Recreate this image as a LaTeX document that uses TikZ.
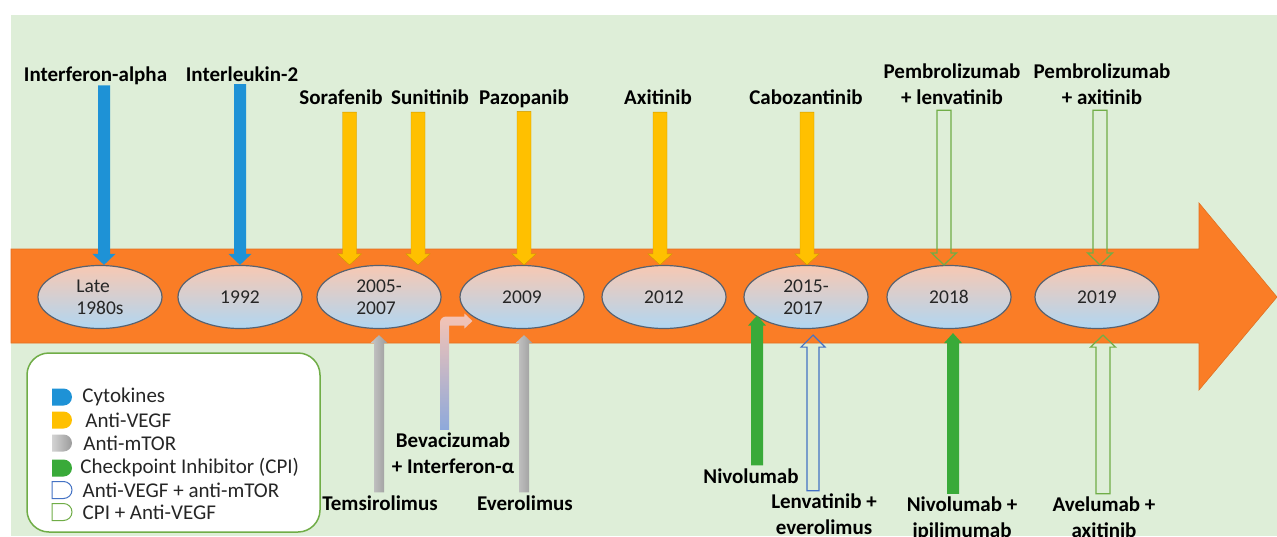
\documentclass[tikz,border=0pt]{standalone}
\usepackage{fontspec}
\setmainfont{Carlito}
\usetikzlibrary{positioning,calc,shapes.geometric,shapes.misc}

\definecolor{bggreen}{RGB}{222,238,216}
\definecolor{bandorange}{RGB}{250,125,38}
\definecolor{ellpeach}{RGB}{247,200,178}
\definecolor{ellblue}{RGB}{176,214,242}
\definecolor{ellline}{RGB}{88,98,112}
\definecolor{cytoblue}{RGB}{30,146,214}
\definecolor{vegfgold}{RGB}{255,192,0}
\definecolor{mtorlight}{RGB}{200,200,200}
\definecolor{mtordark}{RGB}{155,155,155}
\definecolor{cpigreen}{RGB}{57,170,57}
\definecolor{olgreen}{RGB}{112,173,71}
\definecolor{olblue}{RGB}{68,114,196}
\definecolor{bevblue}{RGB}{142,169,219}
\definecolor{bevpink}{RGB}{246,196,180}

\begin{document}
\begin{tikzpicture}[x=1pt,y=-1pt,
  yr/.style={ellipse, draw=ellline, line width=1.2pt, top color=ellpeach, bottom color=ellblue,
    minimum width=124pt, minimum height=63pt, inner sep=0pt, align=left, text=black!85,
    font=\fontsize{19.5}{22}\selectfont},
  drug/.style={inner sep=0pt, outer sep=3pt, align=center, anchor=base,
    font=\bfseries\fontsize{21}{25.5}\selectfont},
  fat/.style n args={3}{to path={let \p1=(\tikztostart), \p2=(\tikztotarget), \n1={sign(\y1-\y2)} in
    (\x1-#1,\y1) -- (\x1-#1,\y2+\n1*#3) -- (\x1-#2,\y2+\n1*#3) -- (\x1,\y2)
    -- (\x1+#2,\y2+\n1*#3) -- (\x1+#1,\y2+\n1*#3) -- (\x1+#1,\y1) -- cycle}},
  cyto/.style={fat={6pt}{11.5pt}{11pt}, fill=cytoblue},
  vegf/.style={fat={7pt}{12pt}{11pt}, fill=vegfgold, draw=vegfgold!80!black, line width=0.4pt},
  mtor/.style={fat={5pt}{8.5pt}{8pt}, left color=mtorlight, right color=mtordark},
  cpi/.style={fat={6pt}{9pt}{10pt}, fill=cpigreen},
  cpivegf/.style={fat={7pt}{12.5pt}{12pt}, draw=olgreen, line width=1.2pt},
  vegfmtor/.style={fat={6pt}{12pt}{12pt}, draw=olblue, line width=1.2pt},
  legicon/.style={rounded rectangle, rounded rectangle left arc=none, minimum width=20pt,
    minimum height=17pt, inner sep=0pt},
  legtxt/.style={inner sep=0pt, font=\fontsize{21}{25}\selectfont, text=black!85}]
\useasboundingbox (0,0) rectangle (1277,536);
\fill[white] (0,0) rectangle (1277,536);
\fill[bggreen] (11,15) rectangle (1277,536);
\path[fill=bandorange, draw=bandorange!90!black, line width=0.6pt]
  (11,249) -- (1199,249) -- (1199,203) -- (1277,297) -- (1199,390) -- (1199,343) -- (11,343) -- cycle;

\node[yr] (y80) at (100,297) {Late\\1980s};
\node[yr] (y92) at (240,297) {1992};
\node[yr] (y0507) at (379,297) {2005-\\2007};
\node[yr] (y09) at (522,297) {2009};
\node[yr] (y12) at (664,297) {2012};
\node[yr] (y1517) at (806,297) {2015-\\2017};
\node[yr] (y18) at (949,297) {2018};
\node[yr] (y19) at (1097,297) {2019};

\node[drug] (ifn) at (95.5,81) {Interferon-alpha};
\node[drug] (il2) at (242,81) {Interleukin-2};
\node[drug] (sora) at (341,104) {Sorafenib};
\node[drug] (suni) at (430,104) {Sunitinib};
\node[drug] (pazo) at (524,104) {Pazopanib};
\node[drug] (axi) at (658,104) {Axitinib};
\node[drug] (cabo) at (806,104) {Cabozantinib};
\node[drug] (pemlen) at (952,104) {Pembrolizumab\\+ lenvatinib};
\node[drug] (pemaxi) at (1102,104) {Pembrolizumab\\+ axitinib};

\node[drug] (tems) at (380,510) {Temsirolimus};
\node[drug] (bev) at (453,473) {Bevacizumab\\+ Interferon-α};
\node[drug] (evero) at (525,510) {Everolimus};
\node[drug] (nivo) at (751,483) {Nivolumab};
\node[drug] (lenev) at (824,534) {Lenvatinib +\\everolimus};
\node[drug] (nivipi) at (962,537) {Nivolumab +\\ipilimumab};
\node[drug] (avax) at (1104,537) {Avelumab +\\axitinib};

\path[cyto] ([xshift=8.5pt,yshift=2pt]ifn.south) to (y80.north);
\path[cyto] ([xshift=-2pt]il2.south) to (y92.north);
\path[vegf] ([xshift=8.5pt,yshift=-5pt]sora.south) to (y0507.north);
\path[vegf] ([xshift=-12pt,yshift=-5pt]suni.south) to (y0507.north);
\path[vegf] ([yshift=-1pt]pazo.south) to (y09.north);
\path[vegf] ([xshift=2pt,yshift=-5pt]axi.south) to (y12.north);
\path[vegf] ([xshift=1pt,yshift=-5pt]cabo.south) to (y1517.north);
\path[cpivegf] ([xshift=-8pt,yshift=-3pt]pemlen.south) to (y18.north);
\path[cpivegf] ([xshift=-2pt,yshift=-3pt]pemaxi.south) to (y19.north);

\path[mtor] ([xshift=-1pt]tems.north) to ([yshift=-6pt]y0507.south);
\path[mtor] ([xshift=-1pt]evero.north) to ([yshift=-6pt]y09.south);
\path[cpi] ([xshift=6pt]nivo.north) to (y1517.200);
\path[vegfmtor] ([xshift=-11pt]lenev.north) to ([yshift=-6pt]y1517.south);
\path[cpi] ([xshift=-9pt]nivipi.north) to ([yshift=-4pt]y18.south);
\path[cpivegf] ([xshift=-1pt]avax.north) to ([yshift=-6pt]y19.south);
\path[bottom color=bevblue, top color=bevpink]
  let \p1=([xshift=-8.5pt]bev.north), \p2=([xshift=-8pt]y09.210) in
  (\x1-4.5pt,\y1) -- (\x1-4.5pt,\y2-1.5pt) arc[start angle=180, end angle=90, radius=6pt]
  -- (\x2-8pt,\y2+4.5pt) -- (\x2-8pt,\y2+7.5pt) -- (\x2,\y2) -- (\x2-8pt,\y2-7.5pt)
  -- (\x2-8pt,\y2-4.5pt) -- (\x1+4.5pt,\y2-4.5pt) -- (\x1+4.5pt,\y1) -- cycle;

\node[draw=olgreen, line width=1.5pt, fill=white, rounded corners=22pt,
  minimum width=293pt, minimum height=179pt] (leg) at (173.5,442.5) {};
\node[legicon, fill=cytoblue] (lc) at (62,397) {};
\node[legtxt, right=10pt of lc] (lct) {Cytokines};
\node[legicon, fill=vegfgold] (lv) at (62,420) {};
\node[legtxt, right=13pt of lv] (lvt) {Anti-VEGF};
\node[legicon, left color=mtorlight!80, right color=mtordark] (lm) at (62,443) {};
\node[legtxt, right=11pt of lm] (lmt) {Anti-mTOR};
\node[legicon, fill=cpigreen] (lp) at (62,468) {};
\node[legtxt, right=8pt of lp] (lpt) {Checkpoint Inhibitor (CPI)};
\node[legicon, draw=olblue, line width=1pt, fill=white] (lvm) at (62,490) {};
\node[legtxt, right=10pt of lvm] (lvmt) {Anti-VEGF + anti-mTOR};
\node[legicon, draw=olgreen, line width=1pt, fill=white] (lpv) at (62,512) {};
\node[legtxt, right=10pt of lpv] (lpvt) {CPI + Anti-VEGF};
\end{tikzpicture}
\end{document}
